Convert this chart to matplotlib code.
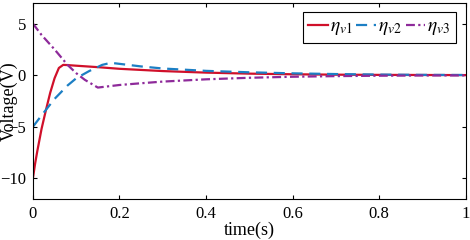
import matplotlib
matplotlib.use("Agg")
import matplotlib.pyplot as plt

plt.rcParams['font.family'] = ['Liberation Serif', 'DejaVu Serif']
plt.rcParams['mathtext.fontset'] = 'stix'

# eta_v1 (solid red)
t1 = [0, 0.005, 0.01, 0.02, 0.03, 0.04, 0.05, 0.06, 0.07, 0.08, 0.1, 0.15, 0.2, 0.3, 0.4, 0.5, 0.6, 0.7, 0.8, 0.9, 1.0]
v1 = [-10, -8.6, -7.4, -5.2, -3.4, -1.7, -0.3, 0.7, 1.0, 0.98, 0.92, 0.78, 0.62, 0.4, 0.25, 0.15, 0.09, 0.05, 0.03, 0.02, 0.01]

# eta_v2 (dashed blue)
t2 = [0, 0.02, 0.05, 0.08, 0.1, 0.13, 0.16, 0.18, 0.2, 0.25, 0.3, 0.4, 0.5, 0.6, 0.7, 0.8, 0.9, 1.0]
v2 = [-5, -3.9, -2.3, -1.0, -0.3, 0.4, 1.0, 1.2, 1.1, 0.85, 0.65, 0.42, 0.28, 0.18, 0.11, 0.06, 0.03, 0.02]

# eta_v3 (dash-dot purple)
t3 = [0, 0.02, 0.05, 0.08, 0.1, 0.12, 0.15, 0.2, 0.25, 0.3, 0.4, 0.5, 0.6, 0.7, 0.8, 0.9, 1.0]
v3 = [5, 3.9, 2.5, 1.0, 0.2, -0.45, -1.2, -0.95, -0.78, -0.62, -0.4, -0.25, -0.15, -0.09, -0.05, -0.03, -0.02]

fig = plt.figure(figsize=(4.7, 2.4), dpi=100)
ax = fig.add_axes([0.070, 0.171, 0.921, 0.8165])

ax.plot(t1, v1, color='#D0102A', lw=1.6, label=r'$\eta_{v1}$')
ax.plot(t2, v2, color='#1C7FC4', lw=1.6, ls=(0, (5, 3)), label=r'$\eta_{v2}$')
ax.plot(t3, v3, color='#8E2A9A', lw=1.6, ls=(0, (4, 1.5, 1, 1.5)), label=r'$\eta_{v3}$')

ax.set_xlim(0, 1)
ax.set_ylim(-12, 7)
ax.set_xticks([0, 0.2, 0.4, 0.6, 0.8, 1])
ax.set_xticklabels(['0', '0.2', '0.4', '0.6', '0.8', '1'])
ax.set_yticks([-10, -5, 0, 5])
ax.tick_params(direction='in', top=True, right=True, labelsize=12, length=3, pad=5)
ax.set_xlabel('time(s)', fontsize=13, labelpad=0)
ax.set_ylabel('Voltage(V)', fontsize=13)
ax.yaxis.set_label_coords(-0.036, 0.5)

leg = ax.legend(loc='upper right', ncol=3, fontsize=14, handlelength=1.0, handletextpad=0.1,
                columnspacing=0.2, borderpad=0.3, borderaxespad=0, fancybox=False, framealpha=1,
                bbox_to_anchor=(0.977, 0.954))
leg.get_frame().set_edgecolor('black')
leg.get_frame().set_linewidth(0.8)

fig.savefig('out.png', dpi=100)
